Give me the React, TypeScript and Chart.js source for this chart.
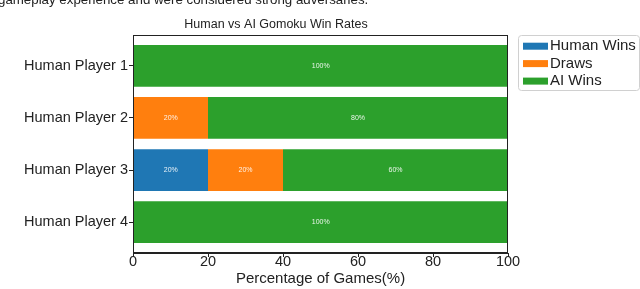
import React, { useEffect, useRef } from "react";
import { Chart, registerables } from "chart.js";

Chart.register(...registerables);

const captionText = "gameplay experience and were considered strong adversaries.";
const chartTitle = "Human vs AI Gomoku Win Rates";
const xAxisTitle = "Percentage of Games(%)";
const categories = ["Human Player 1", "Human Player 2", "Human Player 3", "Human Player 4"];
const seriesNames = ["Human Wins", "Draws", "AI Wins"];
const humanWins = [0, 0, 20, 0];
const draws = [0, 20, 20, 0];
const aiWins = [100, 80, 60, 100];
const xTicks = [0, 20, 40, 60, 80, 100];
const seriesColors = ["#1f77b4", "#ff7f0e", "#2ca02c"];

const FONT = '"Liberation Sans", Arial, sans-serif';

export default function App() {
  const ref = useRef<HTMLCanvasElement | null>(null);

  useEffect(() => {
    if (!ref.current) return;
    const allSeries = [humanWins, draws, aiWins];

    const framePlugin = {
      id: "frame",
      afterDraw(chart: any) {
        const { ctx, chartArea } = chart;
        ctx.save();
        ctx.strokeStyle = "#222";
        ctx.lineWidth = 1;
        const l = Math.round(chartArea.left) + 0.5;
        const t = Math.round(chartArea.top) + 0.5;
        const r = Math.round(chartArea.right) - 0.5;
        const b = Math.round(chartArea.bottom) - 0.5;
        ctx.strokeRect(l, t, r - l, b - t);
        ctx.restore();
      },
    };

    const titlePlugin = {
      id: "customTitle",
      afterDraw(chart: any) {
        const { ctx } = chart;
        ctx.save();
        ctx.fillStyle = "#222";
        ctx.font = `12.5px ${FONT}`;
        ctx.textAlign = "center";
        ctx.textBaseline = "middle";
        ctx.fillText(chartTitle, 276, 25);
        ctx.restore();
      },
    };

    const barLabelPlugin = {
      id: "barLabels",
      afterDatasetsDraw(chart: any) {
        const { ctx } = chart;
        ctx.save();
        ctx.fillStyle = "rgba(255,255,255,0.9)";
        ctx.font = `7px ${FONT}`;
        ctx.textAlign = "center";
        ctx.textBaseline = "middle";
        chart.data.datasets.forEach((ds: any, di: number) => {
          const meta = chart.getDatasetMeta(di);
          meta.data.forEach((el: any, i: number) => {
            const v = allSeries[di][i];
            if (!v) return;
            const cx = (el.x + el.base) / 2;
            ctx.fillText(`${v}%`, cx, el.y);
          });
        });
        ctx.restore();
      },
    };

    const legendPlugin = {
      id: "boxLegend",
      afterDraw(chart: any) {
        const { ctx } = chart;
        ctx.save();
        const bx = 518.5, by = 35.5, bw = 121, bh = 55, rad = 3;
        ctx.fillStyle = "#fff";
        ctx.strokeStyle = "#d0d0d0";
        ctx.lineWidth = 1;
        ctx.beginPath();
        ctx.moveTo(bx + rad, by);
        ctx.lineTo(bx + bw - rad, by);
        ctx.quadraticCurveTo(bx + bw, by, bx + bw, by + rad);
        ctx.lineTo(bx + bw, by + bh - rad);
        ctx.quadraticCurveTo(bx + bw, by + bh, bx + bw - rad, by + bh);
        ctx.lineTo(bx + rad, by + bh);
        ctx.quadraticCurveTo(bx, by + bh, bx, by + bh - rad);
        ctx.lineTo(bx, by + rad);
        ctx.quadraticCurveTo(bx, by, bx + rad, by);
        ctx.closePath();
        ctx.fill();
        ctx.stroke();
        const rowsY = [46.2, 63.6, 81.1];
        ctx.font = `15px ${FONT}`;
        ctx.textAlign = "left";
        ctx.textBaseline = "middle";
        chart.data.datasets.forEach((ds: any, i: number) => {
          const y = rowsY[i];
          ctx.fillStyle = ds.backgroundColor;
          ctx.fillRect(523, y - 3.5, 25, 7);
          ctx.fillStyle = "#222";
          ctx.fillText(ds.label, 550, y);
        });
        ctx.restore();
      },
    };

    const chart = new Chart(ref.current, {
      type: "bar",
      data: {
        datasets: allSeries.map((vals, si) => ({
          label: seriesNames[si],
          data: vals.map((v, i) => ({ x: v, y: i })),
          backgroundColor: seriesColors[si],
          borderWidth: 0,
          barPercentage: 0.8,
          categoryPercentage: 1.0,
        })),
      },
      options: {
        indexAxis: "y",
        animation: false,
        responsive: false,
        maintainAspectRatio: false,
        layout: { padding: { top: 35, right: 132, left: 0, bottom: 0 } },
        plugins: {
          legend: { display: false },
          title: { display: false },
          tooltip: { enabled: false },
        },
        scales: {
          x: {
            type: "linear",
            position: "bottom",
            stacked: true,
            min: 0,
            max: 100,
            offset: false,
            afterBuildTicks: (scale: any) => {
              scale.ticks = xTicks.map((v) => ({ value: v }));
            },
            afterFit: (scale: any) => {
              scale.height = 36;
            },
            ticks: {
              font: { family: FONT, size: 14.5 },
              color: "#222",
              padding: -4,
              maxRotation: 0,
            },
            grid: {
              display: true,
              offset: false,
              drawOnChartArea: false,
              drawTicks: true,
              tickLength: 4,
              color: "#222",
            },
            border: { display: true, color: "#222", width: 1 },
            title: {
              display: true,
              text: xAxisTitle,
              font: { family: FONT, size: 15 },
              color: "#222",
              padding: { top: 0, bottom: 1 },
            },
          },
          y: {
            type: "linear",
            position: "left",
            stacked: true,
            reverse: true,
            offset: false,
            min: -0.59,
            max: 3.59,
            afterBuildTicks: (scale: any) => {
              scale.ticks = categories.map((_, i) => ({ value: i }));
            },
            afterFit: (scale: any) => {
              scale.width = 133;
            },
            ticks: {
              font: { family: FONT, size: 14.5 },
              color: "#222",
              padding: 1,
              callback: (v: any) => categories[Number(v)] ?? "",
            },
            grid: {
              display: true,
              offset: false,
              drawOnChartArea: false,
              drawTicks: true,
              tickLength: 4,
              color: "#222",
            },
            border: { display: true, color: "#222", width: 1 },
          },
        },
      },
      plugins: [barLabelPlugin, framePlugin, titlePlugin, legendPlugin],
    } as any);

    return () => chart.destroy();
  }, []);

  return (
    <div style={{ position: "fixed", left: 0, top: 0, width: 640, height: 289, overflow: "hidden", background: "#fff" }}>
      <canvas ref={ref} width={640} height={289} style={{ position: "absolute", left: 0, top: 0, width: 640, height: 289 }} />
      <div
        style={{
          position: "absolute",
          left: -2,
          top: -8,
          fontFamily: FONT,
          fontSize: 13.3,
          lineHeight: "16px",
          color: "#222",
          whiteSpace: "nowrap",
        }}
      >
        {captionText}
      </div>
    </div>
  );
}
